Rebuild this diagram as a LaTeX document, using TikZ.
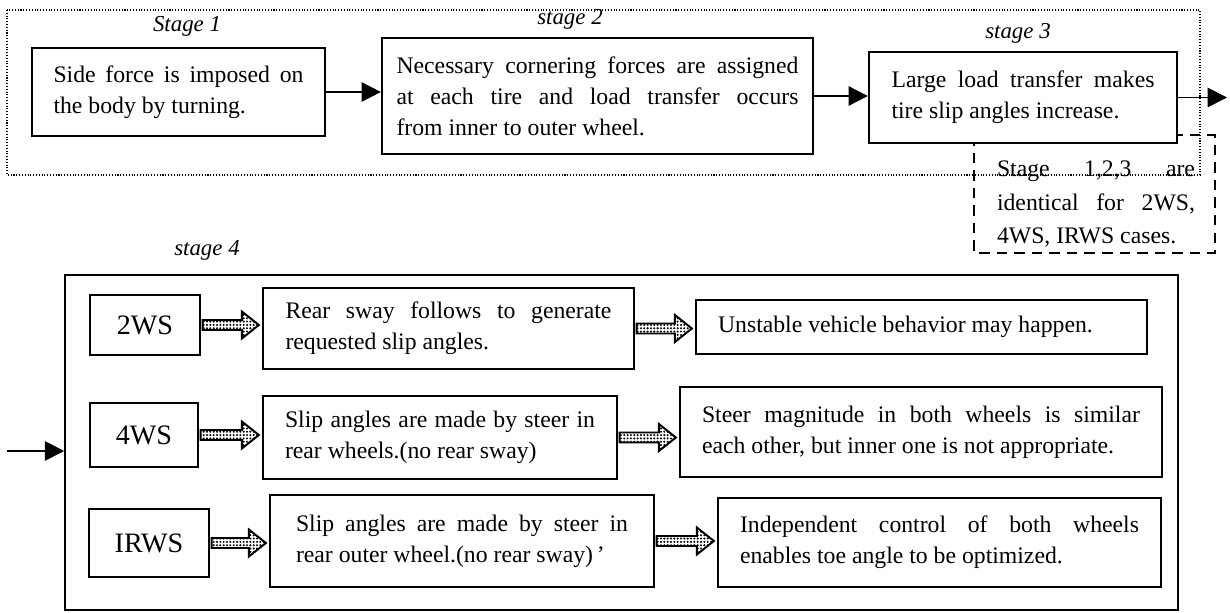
\documentclass[tikz,border=0pt]{standalone}
\usepackage{fontspec}
\setmainfont{Liberation Serif}
\usetikzlibrary{arrows.meta, positioning, calc, patterns.meta}

% dotted block arrow between two boxes
\newcommand{\hatcharrow}[2]{%
  \path[hatch] let \p1=(#1.east), \p2=(#2.west) in
    (\x1+0.03cm,\y1+0.1cm) -- (\x2-0.4cm,\y1+0.1cm) -- (\x2-0.4cm,\y1+0.27cm)
    -- (\x2-0.06cm,\y1) -- (\x2-0.4cm,\y1-0.27cm) -- (\x2-0.4cm,\y1-0.1cm)
    -- (\x1+0.03cm,\y1-0.1cm) -- cycle;}

\begin{document}
\begin{tikzpicture}[x=0.02cm, y=-0.02cm,
  stagebox/.style={draw, line width=1.3pt, fill=white, inner sep=0pt, align=justify,
                   font=\fontsize{13.5}{17.6}\selectfont},
  casebox/.style={draw, line width=1.3pt, inner sep=0pt, font=\fontsize{16}{19}\selectfont},
  stagelabel/.style={font=\fontsize{13}{15}\selectfont\itshape},
  flow/.style={line width=1pt, -{Triangle[length=11pt, width=11pt]}},
  hatch/.style={draw, line width=1.1pt, preaction={fill=white},
                pattern={Dots[distance=1.9pt, radius=0.65pt]}},
  group/.style={draw, line width=0.6pt, densely dotted},
  notebox/.style={draw, line width=0.9pt, dash pattern=on 6pt off 4pt}
]
  \useasboundingbox (0,0) rectangle (1230,612);

  % Stages 1-3 (common part)
  \draw[group] (7,10) rectangle (1200,175);
  \draw[notebox] (974,135) rectangle (1215,253);

  \node[stagelabel] (lab1) at (187,26) {Stage 1};
  \node[stagelabel] (lab2) at (570,19) {stage 2};
  \node[stagelabel] (lab3) at (1018,33) {stage 3};

  \node[stagebox, minimum width=5.86cm, minimum height=1.76cm, text width=5cm] (st1) at (178.5,92)
    {Side force is imposed on\linebreak the body by turning.};
  \node[stagebox, minimum width=8.62cm, minimum height=2.32cm, text width=8.04cm] (st2) at (597.5,96)
    {Necessary cornering forces are assigned\linebreak at each tire and load transfer occurs\linebreak from inner to outer wheel.};
  \node[stagebox, minimum width=6.16cm, minimum height=1.82cm, text width=5.26cm] (st3) at (1023,97.5)
    {Large load transfer makes\linebreak tire slip angles increase.};
  \node[inner sep=0pt, align=justify, text width=3.96cm, font=\fontsize{13.5}{19}\selectfont] (note) at (1096,204)
    {Stage 1,2,3 are\linebreak identical for 2WS,\linebreak 4WS, IRWS cases.};

  \coordinate (out3) at (1227,97.5);
  \draw[flow] (st1.east) -- (st1.east -| st2.west);
  \draw[flow] (st2.east) -- (st2.east -| st3.west);
  \draw[flow] (st3.east) -- (out3);

  % Stage 4
  \node[stagelabel] (lab4) at (207,250) {stage 4};
  \node[draw, line width=1pt, minimum width=22.26cm, minimum height=6.7cm] (s4) at (621.5,442.5) {};
  \coordinate (in4) at (7,451);
  \draw[flow] (in4) -- (in4 -| s4.west);

  \node[casebox, minimum width=2.2cm, minimum height=1.2cm] (ws2) at (145,325) {2WS};
  \node[casebox, minimum width=2.16cm, minimum height=1.28cm] (ws4) at (144,435) {4WS};
  \node[casebox, minimum width=2.4cm, minimum height=1.36cm] (irws) at (149,543) {IRWS};

  \node[stagebox, minimum width=7.42cm, minimum height=1.62cm, text width=6.52cm] (m2) at (448.5,328.5)
    {Rear sway follows to generate\linebreak requested slip angles.};
  \node[stagebox, minimum width=7.08cm, minimum height=1.66cm, text width=6.2cm] (m4) at (440,437.5)
    {Slip angles are made by steer in\linebreak rear wheels.(no rear sway)};
  \node[stagebox, minimum width=7.68cm, minimum height=1.84cm, text width=6.64cm] (mi) at (462,541)
    {Slip angles are made by steer in\linebreak rear outer wheel.(no rear sway)\,’};

  \node[stagebox, minimum width=9.02cm, minimum height=1.08cm, text width=8.14cm] (r2) at (921.5,327)
    {Unstable vehicle behavior may happen.};
  \node[stagebox, minimum width=9.64cm, minimum height=1.8cm, text width=8.76cm] (r4) at (921,432)
    {Steer magnitude in both wheels is similar\linebreak each other, but inner one is not appropriate.};
  \node[stagebox, minimum width=8.86cm, minimum height=1.78cm, text width=7.98cm] (ri) at (939.5,542.5)
    {Independent control of both wheels\linebreak enables toe angle to be optimized.};

  \hatcharrow{ws2}{m2}
  \hatcharrow{m2}{r2}
  \hatcharrow{ws4}{m4}
  \hatcharrow{m4}{r4}
  \hatcharrow{irws}{mi}
  \hatcharrow{mi}{ri}
\end{tikzpicture}
\end{document}
